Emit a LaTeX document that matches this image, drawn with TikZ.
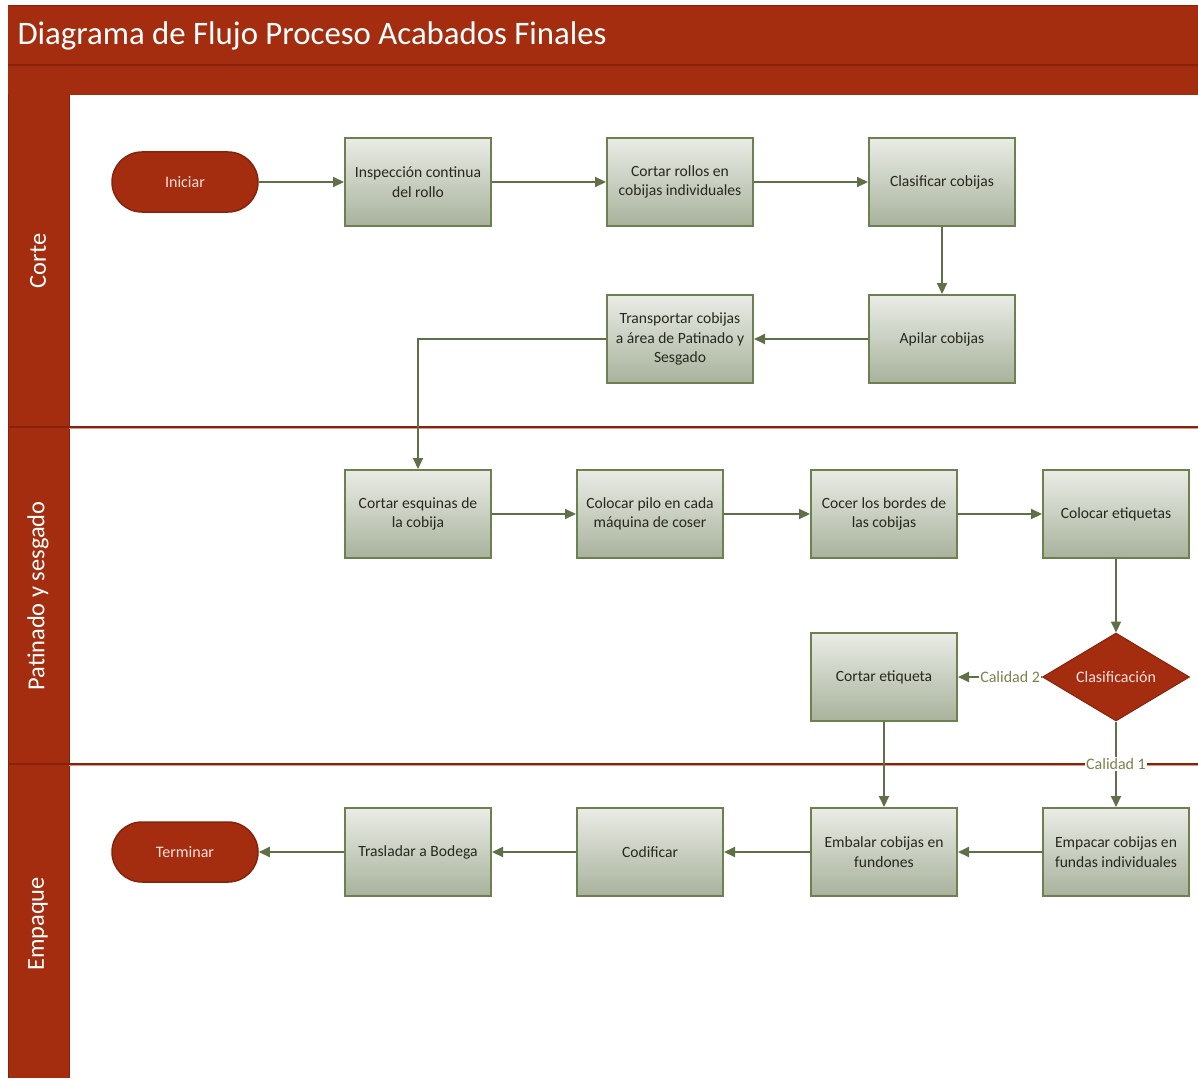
\documentclass[tikz,border=0pt]{standalone}
\usepackage{fontspec}
\setmainfont{Carlito}
\usetikzlibrary{shapes.geometric,arrows.meta,positioning}
\definecolor{lanered}{RGB}{165,45,15}
\definecolor{lanedark}{RGB}{135,35,12}
\definecolor{flowgreen}{RGB}{95,112,72}
\definecolor{boxtop}{RGB}{234,236,230}
\definecolor{boxbot}{RGB}{168,178,156}
\definecolor{boxedge}{RGB}{108,128,80}
\definecolor{boxtext}{RGB}{40,40,30}
\definecolor{labeltext}{RGB}{128,128,78}
\definecolor{pale}{RGB}{245,225,222}
\tikzset{
  x=1pt, y=-1pt,
  stepbox/.style={draw=boxedge, line width=2pt, top color=boxtop, bottom color=boxbot,
    minimum width=146pt, minimum height=88pt, inner sep=2pt, align=center,
    font=\fontsize{15.6}{19.5}\selectfont, text=boxtext},
  terminal/.style={draw=lanedark, line width=1.5pt, fill=lanered, rounded corners=30pt,
    minimum width=146pt, minimum height=60pt, font=\fontsize{16}{19}\selectfont, text=pale},
  decision/.style={diamond, aspect=1.67, draw=lanedark, line width=1pt, fill=lanered,
    minimum width=147pt, minimum height=88pt, inner sep=0pt,
    font=\fontsize{16}{19}\selectfont, text=pale},
  flow/.style={draw=flowgreen, line width=2pt, -{Triangle[length=11pt,width=10pt]}},
  cond/.style={fill=white, inner sep=1pt, font=\fontsize{16}{19}\selectfont, text=labeltext},
  lanetitle/.style={rotate=90, font=\fontsize{24.4}{28}\selectfont, text=white},
}
\begin{document}
\begin{tikzpicture}
\useasboundingbox (0,0) rectangle (1198,1078);
\fill[white] (0,0) rectangle (1198,1078);

% pool header and title
\fill[lanered] (8,6) rectangle (1198,95);
\draw[lanedark, line width=2pt] (8,65) -- (1198,65);
\draw[lanedark, line width=1pt] (8,6) -- (1198,6);
\node[anchor=west, font=\fontsize{32.8}{38}\selectfont, text=white] (title) at (14,36)
  {Diagrama de Flujo Proceso Acabados Finales};

% lane label column
\fill[lanered] (8,95) rectangle (69,1078);
\draw[lanedark, line width=1pt] (8,95) -- (8,1078);
\draw[lanedark, line width=1pt] (69,95) -- (69,1078);

% lane separators
\draw[lanedark, line width=2pt] (8,427) -- (1198,427);
\draw[lanedark, line width=2pt] (8,764) -- (1198,764);
\draw[pale!60!lanered, line width=0.6pt] (69,428.6) -- (1198,428.6);
\draw[pale!60!lanered, line width=0.6pt] (69,765.6) -- (1198,765.6);

\node[lanetitle] (laneA) at (38,261) {Corte};
\node[lanetitle] (laneB) at (38,596) {Patinado y sesgado};
\node[lanetitle] (laneC) at (38,924) {Empaque};

% Corte
\node[terminal] (start) at (185,182) {Iniciar};
\node[stepbox] (insp) at (418,182) {Inspección continua\\del rollo};
\node[stepbox] (cut) at (680,182) {Cortar rollos en\\cobijas individuales};
\node[stepbox] (sort) at (942,182) {Clasificar cobijas};
\node[stepbox] (stack) at (942,339) {Apilar cobijas};
\node[stepbox] (move) at (680,339) {Transportar cobijas\\a área de Patinado y\\Sesgado};

% Patinado y sesgado
\node[stepbox] (corner) at (418,514) {Cortar esquinas de\\la cobija};
\node[stepbox] (pile) at (650,514) {Colocar pilo en cada\\máquina de coser};
\node[stepbox] (sew) at (884,514) {Cocer los bordes de\\las cobijas};
\node[stepbox] (tags) at (1116,514) {Colocar etiquetas};
\node[decision] (grade) at (1116,677) {Clasificación};
\node[stepbox] (cuttag) at (884,677) {Cortar etiqueta};

% Empaque
\node[stepbox] (pack) at (1116,852) {Empacar cobijas en\\fundas individuales};
\node[stepbox] (bale) at (884,852) {Embalar cobijas en\\fundones};
\node[stepbox] (code) at (650,852) {Codificar};
\node[stepbox] (store) at (418,852) {Trasladar a Bodega};
\node[terminal] (finish) at (185,852) {Terminar};

% connectors
\draw[flow] (start) -- (insp);
\draw[flow] (insp) -- (cut);
\draw[flow] (cut) -- (sort);
\draw[flow] (sort) -- (stack);
\draw[flow] (stack) -- (move);
\draw[flow] (move.west) -| (corner.north);
\draw[flow] (corner) -- (pile);
\draw[flow] (pile) -- (sew);
\draw[flow] (sew) -- (tags);
\draw[flow] (tags) -- (grade);
\draw[flow] (grade.west) -- node[cond, pos=0.0, anchor=east] (q2) {Calidad 2} (cuttag.east);
\draw[flow] (grade.south) -- (pack.north);
\node[cond] (q1) at (1116,764) {Calidad 1};
\draw[flow] (cuttag) -- (bale);
\draw[flow] (pack) -- (bale);
\draw[flow] (bale) -- (code);
\draw[flow] (code) -- (store);
\draw[flow] (store) -- (finish);
\end{tikzpicture}
\end{document}
